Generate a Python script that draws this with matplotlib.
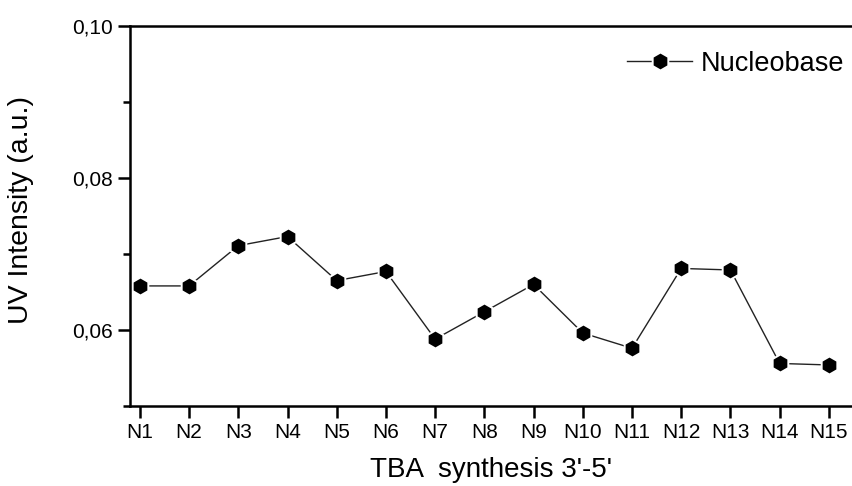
import matplotlib.pyplot as plt
from matplotlib.ticker import MultipleLocator, FuncFormatter

plt.rcParams['font.family'] = ['Liberation Sans', 'DejaVu Sans']

# UV intensity per nucleobase step of the TBA synthesis
labels = ['N1', 'N2', 'N3', 'N4', 'N5', 'N6', 'N7', 'N8', 'N9', 'N10',
          'N11', 'N12', 'N13', 'N14', 'N15']
intensity = [0.0658, 0.0658, 0.0711, 0.0723, 0.0665, 0.0677, 0.0588, 0.0624,
             0.0660, 0.0596, 0.0576, 0.0681, 0.0679, 0.0556, 0.0554]

x = list(range(1, len(labels) + 1))

fig = plt.figure(figsize=(8.52, 4.86), dpi=100)
ax = fig.add_axes([0.1526, 0.1646, 0.8474, 0.7819])

# white marker edge leaves a small gap between line and hexagon
ax.plot(x, intensity, color='#222222', lw=1.0, marker='h', markersize=13,
        markerfacecolor='black', markeredgecolor='white', markeredgewidth=1.4,
        label='Nucleobase')

ax.set_xlim(0.8, 15.47)
ax.set_ylim(0.05, 0.10)
ax.set_xticks(x)
ax.set_xticklabels(labels)
ax.yaxis.set_major_locator(MultipleLocator(0.02))
ax.yaxis.set_minor_locator(MultipleLocator(0.01))
ax.yaxis.set_major_formatter(FuncFormatter(lambda v, p: f'{v:.2f}'.replace('.', ',')))

for s in ['left', 'bottom', 'top']:
    ax.spines[s].set_linewidth(1.8)
ax.spines['right'].set_visible(False)

ax.tick_params(axis='both', which='major', direction='out', length=8.5, width=1.8,
               labelsize=15, pad=4)
ax.tick_params(axis='y', which='minor', direction='out', length=5, width=1.8)
ax.tick_params(axis='x', which='both', top=False)

ax.set_ylabel('UV Intensity (a.u.)', fontsize=20.5)
ax.yaxis.set_label_coords(-0.133, 0.516)
ax.set_xlabel("TBA  synthesis 3'-5'", fontsize=20)
ax.xaxis.set_label_coords(0.5, -0.134)

leg = ax.legend(loc='upper right', frameon=False, fontsize=19.5, handlelength=2.4,
                handletextpad=0.3, borderaxespad=0.3,
                bbox_to_anchor=(1.0 + 11 / 722, 1.0 - 6 / 380))

fig.savefig('out.png', dpi=100)
